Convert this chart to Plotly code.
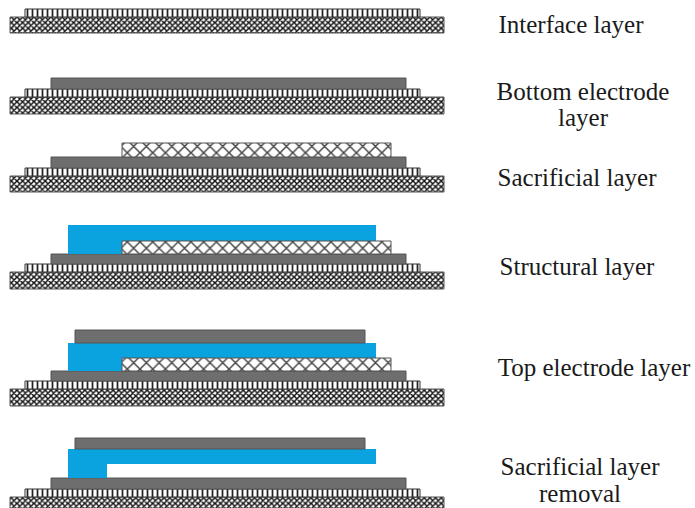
import plotly.graph_objects as go

# Layer tables: one row per drawn rectangle, in draw order
layer_kind = [
    "sub", "int",
    "sub", "int", "elec",
    "sub", "int", "elec", "sac",
    "sub", "int", "elec", "struct", "sac",
    "sub", "int", "elec", "struct", "sac", "elec",
    "sub", "int", "elec", "struct", "struct", "elec",
]
layer_left = [
    10, 25,
    10, 25, 51,
    10, 25, 51, 122,
    10, 25, 51, 68, 122,
    10, 25, 51, 68, 122, 75,
    10, 25, 51, 68, 68, 75,
]
layer_right = [
    444, 420,
    444, 420, 406,
    444, 420, 406, 391,
    444, 420, 406, 376, 391,
    444, 420, 406, 376, 391, 365,
    444, 420, 406, 107, 376, 365,
]
layer_top = [
    17, 9,
    97, 89, 78,
    176, 168, 157, 143,
    272, 264, 254, 225, 241,
    389, 381, 371, 343, 358, 330,
    497, 489, 478, 449, 449, 438,
]
layer_bottom = [
    33, 17,
    114, 97, 89,
    192, 176, 168, 157,
    289, 272, 264, 254, 254,
    406, 389, 381, 371, 371, 343,
    513, 497, 489, 478, 464, 449,
]

label_text = [
    "Interface layer",
    "Bottom electrode",
    "layer",
    "Sacrificial layer",
    "Structural layer",
    "Top electrode layer",
    "Sacrificial layer",
    "removal",
]
label_x = [571, 583, 583, 577, 577, 594, 580, 580]
label_y = [27, 94, 120, 180, 269, 370, 469, 496]

styles = {
    "sub": dict(color="#ffffff", line=dict(color="#555555", width=1),
                pattern=dict(shape="x", size=4, solidity=0.6, fgcolor="#111111", bgcolor="#ffffff", fillmode="replace")),
    "int": dict(color="#ffffff", line=dict(color="#333333", width=1),
                pattern=dict(shape="|", size=5, solidity=0.35, fgcolor="#222222", bgcolor="#ffffff", fillmode="replace")),
    "elec": dict(color="#6e6e6e", line=dict(color="#555555", width=1)),
    "sac": dict(color="#ffffff", line=dict(color="#555555", width=1),
                pattern=dict(shape="x", size=9, solidity=0.3, fgcolor="#444444", bgcolor="#ffffff", fillmode="replace")),
    "struct": dict(color="#0aa3e0", line=dict(width=0)),
}

fig = go.Figure()
for kind, x0, x1, y0, y1 in zip(layer_kind, layer_left, layer_right, layer_top, layer_bottom):
    fig.add_trace(go.Bar(
        orientation="h",
        y=[(y0 + y1) / 2],
        x=[x1 - x0],
        base=[x0],
        width=[y1 - y0],
        marker=styles[kind],
        showlegend=False,
        hoverinfo="skip",
    ))

fig.add_trace(go.Scatter(
    x=label_x, y=label_y, mode="text", text=label_text,
    textposition="middle center",
    textfont=dict(family="Liberation Serif", size=25, color="#1a1a1a"),
    showlegend=False, hoverinfo="skip",
))

fig.update_layout(
    width=695, height=508,
    margin=dict(l=0, r=0, t=0, b=0),
    paper_bgcolor="white", plot_bgcolor="white",
    barmode="overlay",
    xaxis=dict(range=[0, 695], visible=False, fixedrange=True),
    yaxis=dict(range=[508, 0], visible=False, fixedrange=True),
)
fig.write_html("out.html", config=dict(displayModeBar=False),
               post_script="document.body.style.margin='0';")
